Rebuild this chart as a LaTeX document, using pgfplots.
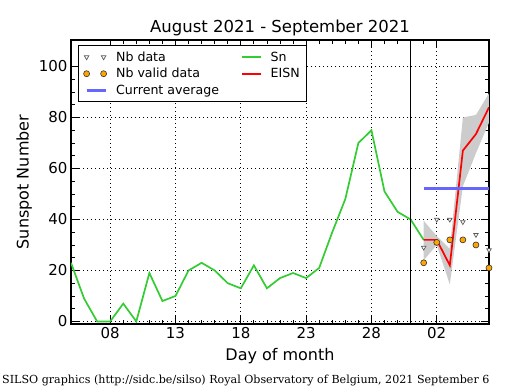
\documentclass[border=0pt]{standalone}
\usepackage{pgfplots}
\pgfplotsset{compat=1.18}
\usepackage{fontspec}
\setmainfont{DejaVu Sans}
\newfontfamily\footfont{DejaVu Serif}
\definecolor{sngreen}{RGB}{51,204,51}
\definecolor{avgblue}{RGB}{102,102,255}
\definecolor{bandgray}{RGB}{204,204,204}
\definecolor{nbor}{RGB}{255,165,0}
\definecolor{trigray}{RGB}{90,90,90}
\pgfplotsset{
  mytwomarks/.style={legend image code/.code={\draw[##1] plot coordinates {(0pt,0pt) (17pt,0pt)};}},
  myline/.style={legend image code/.code={\draw[##1] (0pt,0pt) -- (19pt,0pt);}},
}
\begin{document}
\begin{tikzpicture}
\useasboundingbox (0pt,0pt) rectangle (515pt,390pt);
\begin{axis}[
  at={(71pt,66pt)}, anchor=south west,
  scale only axis, width=418pt, height=284pt,
  xmin=5, xmax=37, ymin=-1, ymax=110.4,
  xtick={8,13,18,23,28,33}, xticklabels={08,13,18,23,28,02},
  minor x tick num=4,
  ytick={0,20,40,60,80,100}, yticklabels={0,20,40,60,80,100},
  minor y tick num=3,
  tick align=inside, tick pos=both,
  major tick length=8pt, minor tick length=4pt,
  every tick/.style={black, line width=0.8pt},
  axis line style={line width=1.5pt},
  grid=major, grid style={black, line width=0.8pt, dash pattern=on 1pt off 3pt},
  ticklabel style={font=\fontsize{15}{18}\selectfont},
  title={August 2021 - September 2021},
  title style={font=\fontsize{16.5}{19}\selectfont, yshift=-5pt},
  xlabel={Day of month}, ylabel={Sunspot Number},
  label style={font=\fontsize{16}{19}\selectfont},
  xlabel style={yshift=-3pt},
  legend columns=2,
  legend cell align=left,
  legend style={at={(0.017,0.982)}, anchor=north west, draw=black, line width=1pt,
    font=\fontsize{12.6}{15}\selectfont,
    /tikz/every even column/.append style={column sep=20pt},
    /tikz/every odd column/.append style={column sep=7pt},
    row sep=1.5pt, inner xsep=5pt, inner ysep=4pt},
]
% EISN error band
\addplot[fill=bandgray, draw=none, forget plot] coordinates {
  (32,39.5) (33,33.5) (34,28.5) (35,80) (36,81) (37,89.5)
  (37,78) (36,66) (35,53) (34,14.5) (33,30) (32,24)
} -- cycle;
% Sn
\addplot[sngreen, line width=1.7pt, forget plot] coordinates {
  (5,23) (6,9) (7,0) (8,0) (9,7) (10,0) (11,19) (12,8) (13,10) (14,20)
  (15,23) (16,20) (17,15) (18,13) (19,22) (20,13) (21,17) (22,19) (23,17)
  (24,21) (25,35) (26,48) (27,70) (28,75) (29,51) (30,43) (31,40) (32,32)
};
% EISN
\addplot[red, line width=1.7pt, forget plot] coordinates {
  (32,32) (33,32) (34,22) (35,67) (36,73.5) (37,84)
};
% month separator
\addplot[black, line width=1.2pt, forget plot] coordinates {(31,-1) (31,110.4)};
% current average
\addplot[avgblue, line width=3pt, forget plot] coordinates {(32,52) (37,52)};
% Nb data
\addplot[only marks, mark=triangle*, mark size=2.6pt,
  mark options={rotate=180, fill=white, draw=trigray, line width=0.7pt}, forget plot] coordinates {
  (32,29) (33,40) (34,40) (35,39) (36,34) (37,28)
};
% Nb valid data
\addplot[only marks, mark=*, mark size=3pt,
  mark options={fill=nbor, draw=black!80, line width=0.6pt}, forget plot] coordinates {
  (32,23) (33,31) (34,32) (35,32) (36,30) (37,21)
};
% legend
\addlegendimage{only marks, mark=triangle*, mark size=2.6pt,
  mark options={rotate=180, fill=white, draw=trigray, line width=0.7pt}, mytwomarks}
\addlegendentry{Nb data}
\addlegendimage{sngreen, line width=1.7pt, myline}
\addlegendentry{Sn}
\addlegendimage{only marks, mark=*, mark size=3pt,
  mark options={fill=nbor, draw=black!80, line width=0.6pt}, mytwomarks}
\addlegendentry{Nb valid data}
\addlegendimage{red, line width=1.7pt, myline}
\addlegendentry{EISN}
\addlegendimage{avgblue, line width=3pt, myline}
\addlegendentry{Current average}
\end{axis}
\node[anchor=base west, inner sep=0pt, font=\footfont\fontsize{11.1}{13}\selectfont] at (2pt,6pt)
  {SILSO graphics (http://sidc.be/silso) Royal Observatory of Belgium, 2021 September 6};
\end{tikzpicture}
\end{document}
